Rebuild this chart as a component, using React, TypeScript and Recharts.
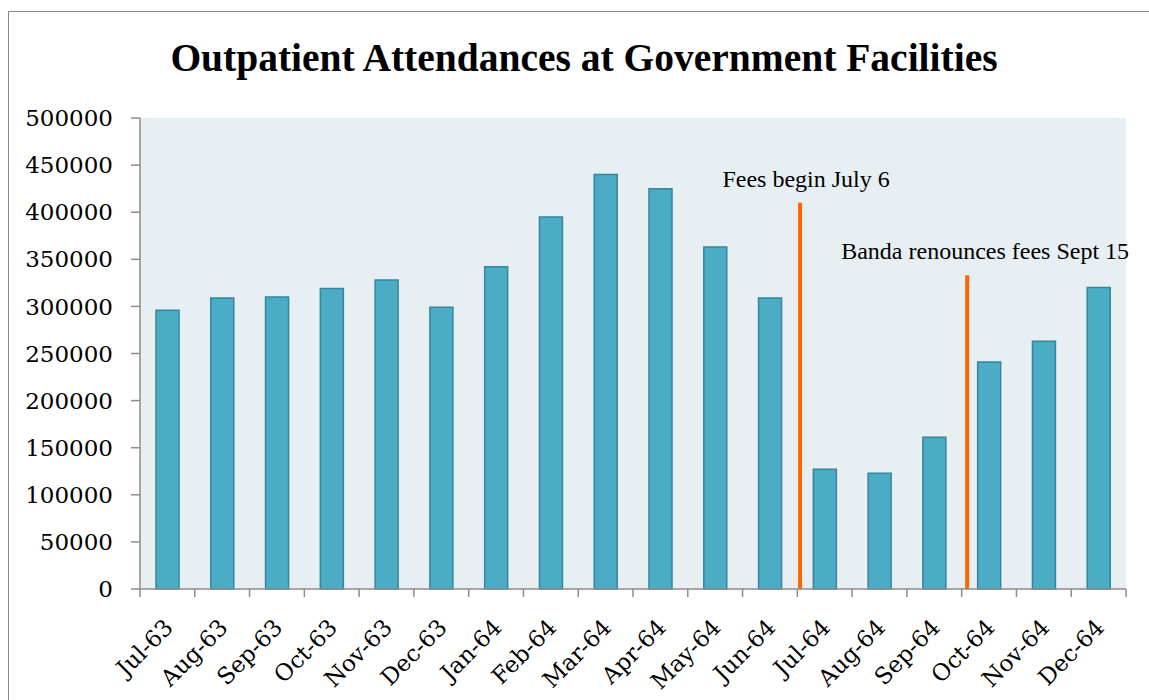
import { BarChart, Bar, XAxis, YAxis, CartesianGrid, ReferenceLine } from "recharts"

const months = [
  "Jul-63", "Aug-63", "Sep-63", "Oct-63", "Nov-63", "Dec-63",
  "Jan-64", "Feb-64", "Mar-64", "Apr-64", "May-64", "Jun-64",
  "Jul-64", "Aug-64", "Sep-64", "Oct-64", "Nov-64", "Dec-64",
]
const attendances = [
  296000, 309000, 310000, 319000, 328000, 299000,
  342000, 395000, 440000, 425000, 363000, 309000,
  127000, 123000, 161000, 241000, 263000, 320000,
]
const yTicks = [0, 50000, 100000, 150000, 200000, 250000, 300000, 350000, 400000, 450000, 500000]
// month boundaries, Excel puts the x ticks between categories
const boundaryTicks = [0, 1, 2, 3, 4, 5, 6, 7, 8, 9, 10, 11, 12, 13, 14, 15, 16, 17, 18]

const eventLabels = ["Fees begin July 6", "Banda renounces fees Sept 15"]
const eventPositions = [12.05, 15.1]
const eventHeights = [410000, 333000]
const eventLabelShift = [6, 18]

// each month sits in the middle of its slot
const data = months.map((m, i) => ({ pos: i + 0.5, month: m, value: attendances[i] }))

const AXIS = "#8c8c8c"
const FONT = "'DejaVu Serif', serif"

function MonthTick(props: any) {
  const { x, y, payload, width } = props
  const k = payload.value
  if (k >= months.length) return null
  const half = (Number(width) || 986) / months.length / 2
  const tx = x + half + 7
  const ty = y + 32
  return (
    <text x={tx} y={ty} transform={`rotate(-45, ${tx}, ${ty})`} textAnchor="end"
      fontFamily={FONT} fontSize={23} fill="#000">
      {months[k]}
    </text>
  )
}

function EventLabel({ viewBox, text, shift }: any) {
  return (
    <text x={viewBox.x + shift} y={viewBox.y - 16} textAnchor="middle"
      fontFamily="'Liberation Serif', serif" fontSize={24} fill="#000">
      {text}
    </text>
  )
}

export default function App() {
  return (
    <div style={{ position: "fixed", left: 0, top: 0, width: 1149, height: 700, background: "#fff", overflow: "hidden" }}>
      <div style={{ position: "absolute", left: 8, top: 11, width: 1200, height: 800, border: "1.5px solid #8a8a8a", boxSizing: "border-box" }} />
      <div style={{
        position: "absolute", left: 0, top: 35, width: 1168, textAlign: "center",
        fontFamily: "'Liberation Serif', serif", fontWeight: "bold", fontSize: 39.5, color: "#000", lineHeight: "46px",
      }}>
        Outpatient Attendances at Government Facilities
      </div>
      <div style={{ position: "absolute", left: 0, top: 0 }}>
        <BarChart width={1149} height={700} data={data} margin={{ top: 118, right: 23, left: 0, bottom: 0 }}>
          <CartesianGrid horizontal={false} vertical={false} fill="#e8eff3" />
          <XAxis dataKey="pos" type="number" domain={[0, 18]} ticks={boundaryTicks} allowDataOverflow
            height={111} tickSize={8} tickMargin={0} interval={0}
            axisLine={{ stroke: AXIS, strokeWidth: 1.5 }} tickLine={{ stroke: AXIS, strokeWidth: 1.5 }}
            tick={<MonthTick />} />
          <YAxis domain={[0, 500000]} ticks={yTicks} width={140} tickSize={9} tickMargin={18}
            axisLine={{ stroke: AXIS, strokeWidth: 1.5 }} tickLine={{ stroke: AXIS, strokeWidth: 1.5 }}
            tick={{ fontFamily: FONT, fontSize: 23, fill: "#000" }} />
          <Bar dataKey="value" fill="#4bacc6" stroke="#35869c" strokeWidth={1.5}
            barSize={23} isAnimationActive={false} />
          {eventLabels.map((label, i) => (
            <ReferenceLine key={label}
              segment={[{ x: eventPositions[i], y: 0 }, { x: eventPositions[i], y: eventHeights[i] }]}
              stroke="#ff6600" strokeWidth={4}
              label={<EventLabel text={label} shift={eventLabelShift[i]} />} />
          ))}
        </BarChart>
      </div>
    </div>
  )
}
